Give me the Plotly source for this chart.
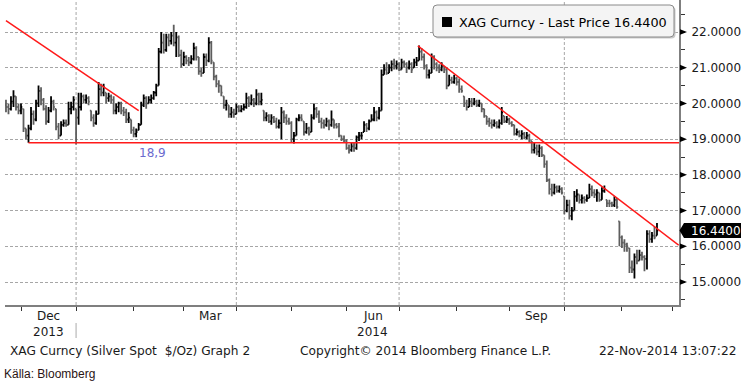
import pandas as pd
import plotly.graph_objects as go

# ---------------- data ----------------
dates = pd.bdate_range("2013-11-22", "2014-11-21")   # 261 trading days (weekends removed)
first_open = 19.95
close = [19.9,
 19.85, 20.05, 20.2, 19.9, 19.8,
 19.9, 19.3, 19.1, 19.3, 19.7,
 19.55, 20.0, 20.35, 20.1, 19.85,
 19.5, 19.8, 20.05, 19.9, 19.35,
 19.1, 19.4, 19.45, 19.4, 19.85,
 19.9, 20.1, 19.6, 19.9, 20.2,
 20.1, 20.15, 20.05, 19.6, 19.45,
 19.7, 20.4, 20.3, 20.45, 20.15,
 20.2, 20.1, 19.8, 19.9, 20.0,
 19.8, 19.75, 19.55, 19.6, 19.25,
 19.15, 19.2, 19.4, 19.95, 20.15,
 20.0, 20.1, 20.15, 20.3, 20.5,
 21.45, 21.7, 21.5, 21.85, 21.75,
 21.9, 21.7, 21.85, 21.35, 21.1,
 21.3, 21.2, 21.15, 21.25, 21.55,
 21.3, 20.9, 20.85, 21.3, 21.2,
 21.7, 21.2, 20.75, 20.55, 20.5,
 20.3, 19.95, 20.0, 19.7, 19.75,
 19.7, 19.9, 19.8, 19.85, 19.9,
 20.15, 20.0, 20.1, 20.0, 20.25,
 20.05, 20.1, 19.6, 19.65, 19.5,
 19.6, 19.5, 19.35, 19.45, 19.75,
 19.6, 19.5, 19.45, 19.0, 19.1,
 19.55, 19.6, 19.55, 19.2, 19.3,
 19.15, 19.6, 19.85, 19.7, 19.5,
 19.45, 19.4, 19.5, 19.4, 19.55,
 19.4, 19.35, 19.1, 19.0, 18.95,
 18.75, 18.7, 18.8, 18.75, 19.05,
 19.1, 19.1, 19.4, 19.3, 19.5,
 19.55, 19.75, 19.6, 19.8, 20.8,
 20.95, 20.85, 21.0, 21.1, 21.05,
 21.1, 20.95, 21.15, 21.1, 21.0,
 21.1, 20.95, 21.15, 21.2, 21.45,
 21.3, 21.05, 20.8, 20.85, 21.3,
 21.1, 21.0, 20.95, 21.05, 20.95,
 20.5, 20.65, 20.6, 20.7, 20.6,
 20.4, 20.35, 20.0, 19.9, 20.05,
 20.0, 20.05, 19.95, 20.0, 19.85,
 19.65, 19.5, 19.45, 19.4, 19.45,
 19.35, 19.45, 19.75, 19.5, 19.55,
 19.45, 19.4, 19.15, 19.2, 19.1,
 19.15, 19.05, 19.1, 18.95, 18.7,
 18.75, 18.65, 18.75, 18.55, 18.3,
 17.85, 17.6, 17.5, 17.65, 17.55,
 17.6, 17.5, 17.0, 17.15, 16.85,
 17.0, 17.4, 17.45, 17.3, 17.35,
 17.3, 17.35, 17.6, 17.5, 17.45,
 17.5, 17.3, 17.55, 17.6, 17.2,
 17.2, 17.15, 17.3, 17.1, 16.25,
 16.1, 16.05, 16.0, 15.4, 15.35,
 15.7, 15.6, 15.75, 15.7, 15.65,
 16.35, 16.2, 16.3, 16.25, 16.44]
high = [20.1,
 20.0, 20.2, 20.37, 20.2, 20.0,
 20.0, 19.85, 19.3, 19.4, 19.9,
 19.8, 20.1, 20.5, 20.45, 20.15,
 19.95, 19.9, 20.2, 20.1, 19.85,
 19.45, 19.5, 19.55, 19.55, 20.05,
 20.05, 20.2, 19.85, 20.3, 20.3,
 20.25, 20.25, 20.2, 19.8, 19.7,
 19.8, 20.6, 20.55, 20.55, 20.3,
 20.3, 20.25, 20.2, 20.0, 20.05,
 20.05, 19.9, 19.85, 19.75, 19.55,
 19.35, 19.3, 19.45, 20.05, 20.25,
 20.2, 20.2, 20.25, 20.35, 20.55,
 21.55, 22.0, 21.95, 21.95, 21.95,
 22.0, 22.2, 22.0, 21.9, 21.5,
 21.45, 21.35, 21.3, 21.35, 21.7,
 21.6, 21.3, 21.0, 21.4, 21.4,
 21.85, 21.75, 21.15, 20.8, 20.65,
 20.5, 20.2, 20.1, 19.95, 19.9,
 19.85, 20.0, 19.95, 19.95, 20.0,
 20.3, 20.2, 20.25, 20.15, 20.4,
 20.3, 20.3, 19.8, 19.75, 19.7,
 19.7, 19.65, 19.6, 19.55, 19.9,
 19.8, 19.7, 19.6, 19.5, 19.2,
 19.6, 19.7, 19.7, 19.5, 19.45,
 19.35, 19.7, 20.0, 19.9, 19.8,
 19.6, 19.55, 19.6, 19.55, 19.8,
 19.55, 19.45, 19.45, 19.1, 19.1,
 19.0, 18.85, 18.9, 18.9, 19.1,
 19.2, 19.2, 19.5, 19.45, 19.55,
 19.7, 19.9, 19.8, 19.9, 20.95,
 21.1, 21.15, 21.1, 21.2, 21.25,
 21.2, 21.15, 21.25, 21.2, 21.15,
 21.2, 21.15, 21.25, 21.3, 21.62,
 21.55, 21.4, 21.1, 20.95, 21.4,
 21.35, 21.15, 21.1, 21.15, 21.05,
 21.0, 20.8, 20.75, 20.8, 20.75,
 20.7, 20.5, 20.2, 20.1, 20.15,
 20.15, 20.15, 20.1, 20.1, 20.0,
 19.85, 19.65, 19.6, 19.55, 19.55,
 19.5, 19.55, 19.9, 19.65, 19.65,
 19.6, 19.5, 19.4, 19.3, 19.25,
 19.25, 19.2, 19.2, 19.15, 18.95,
 18.9, 18.85, 18.85, 18.8, 18.55,
 18.4, 17.9, 17.75, 17.75, 17.7,
 17.7, 17.65, 17.4, 17.3, 17.3,
 17.1, 17.55, 17.6, 17.45, 17.45,
 17.4, 17.45, 17.75, 17.7, 17.6,
 17.6, 17.5, 17.65, 17.7, 17.3,
 17.3, 17.25, 17.4, 17.35, 16.7,
 16.3, 16.2, 16.1, 15.95, 15.6,
 15.8, 15.9, 15.9, 15.85, 15.75,
 16.45, 16.45, 16.4, 16.55, 16.65]
low = [19.75,
 19.7, 19.8, 19.9, 19.8, 19.7,
 19.7, 19.2, 19.0, 18.9, 19.25,
 19.4, 19.5, 19.9, 19.95, 19.8,
 19.4, 19.45, 19.75, 19.8, 19.25,
 19.0, 19.1, 19.35, 19.35, 19.4,
 19.7, 19.8, 18.85, 19.4, 19.8,
 20.0, 20.0, 19.95, 19.5, 19.35,
 19.4, 19.7, 20.2, 20.2, 20.0,
 20.05, 20.0, 19.7, 19.7, 19.75,
 19.7, 19.65, 19.45, 19.45, 19.15,
 19.05, 19.05, 19.25, 19.4, 19.9,
 19.85, 20.0, 20.0, 20.1, 20.2,
 20.5, 21.4, 21.4, 21.45, 21.6,
 21.65, 21.6, 21.3, 21.3, 21.0,
 21.05, 21.1, 21.05, 21.1, 21.2,
 21.2, 20.8, 20.75, 20.85, 21.05,
 21.15, 21.1, 20.65, 20.45, 20.3,
 20.2, 19.85, 19.8, 19.6, 19.6,
 19.6, 19.7, 19.75, 19.75, 19.8,
 19.85, 19.9, 19.95, 19.9, 19.95,
 19.95, 19.95, 19.5, 19.5, 19.45,
 19.4, 19.45, 19.3, 19.3, 19.0,
 19.45, 19.4, 19.4, 18.9, 18.88,
 19.1, 19.5, 19.5, 19.1, 19.15,
 19.1, 19.2, 19.55, 19.6, 19.45,
 19.3, 19.3, 19.35, 19.25, 19.35,
 19.3, 19.3, 19.05, 18.95, 18.9,
 18.7, 18.6, 18.65, 18.65, 18.7,
 18.95, 19.0, 19.2, 19.2, 19.25,
 19.5, 19.5, 19.5, 19.55, 19.8,
 20.8, 20.8, 20.85, 20.9, 20.95,
 20.95, 20.9, 20.95, 21.0, 20.85,
 20.95, 20.85, 21.0, 21.05, 21.2,
 21.2, 20.95, 20.7, 20.7, 20.85,
 20.95, 20.9, 20.85, 20.9, 20.85,
 20.4, 20.5, 20.55, 20.55, 20.5,
 20.3, 20.3, 19.9, 19.8, 19.9,
 19.9, 19.95, 19.9, 19.9, 19.75,
 19.6, 19.4, 19.35, 19.3, 19.35,
 19.3, 19.3, 19.4, 19.45, 19.45,
 19.4, 19.35, 19.1, 19.1, 19.05,
 19.0, 19.0, 19.0, 18.9, 18.6,
 18.6, 18.55, 18.5, 18.5, 18.2,
 17.8, 17.45, 17.4, 17.45, 17.5,
 17.5, 17.45, 16.9, 16.95, 16.75,
 16.73, 17.0, 17.25, 17.2, 17.2,
 17.2, 17.25, 17.35, 17.4, 17.35,
 17.25, 17.25, 17.3, 17.5, 17.1,
 17.1, 17.1, 17.1, 17.05, 16.0,
 15.95, 15.85, 15.85, 15.25, 15.25,
 15.1, 15.5, 15.6, 15.6, 15.3,
 15.35, 16.1, 16.1, 16.2, 16.3]

trend1_x = ["2013-11-22", "2014-02-05"]
trend1_y = [22.32, 19.80]
trend2_x = ["2014-07-10 12:00", "2014-12-03 16:00"]
trend2_y = [21.61, 16.03]
support_x = ["2013-12-05", "2014-12-03 19:00"]
support_y = [18.9, 18.9]
support_label = "18,9"
support_label_x = "2014-02-12 08:00"

y_ticks = [15, 16, 17, 18, 19, 20, 21, 22]
month_ticks = ["2013-12-02", "2014-01-01", "2014-02-03", "2014-03-03", "2014-04-01",
               "2014-05-01", "2014-06-02", "2014-07-01", "2014-08-01", "2014-09-01",
               "2014-10-01", "2014-11-03", "2014-12-01"]
quarter_lines = ["2014-01-01", "2014-04-01", "2014-07-01", "2014-10-01"]
month_labels = [("2013-12-17", "Dec"), ("2014-03-17 12:00", "Mar"),
                ("2014-06-16 12:00", "Jun"), ("2014-09-16", "Sep")]
year_labels = [("2013-12-17", "2013"), ("2014-06-16 12:00", "2014")]
last_price = 16.44
ticker = "XAG Curncy"

# ---------------- geometry helpers ----------------
W, H = 741, 382
def px(x): return x / W
def py(y): return 1 - y / H

opens = []
prev = first_open
for c, h, l in zip(close, high, low):
    opens.append(min(max(prev, l), h))
    prev = c

FONT = "DejaVu Sans"
TXT = "#1a1a1a"

fig = go.Figure()
fig.add_trace(go.Ohlc(
    x=dates, open=opens, high=high, low=low, close=close,
    increasing=dict(line=dict(color="#000000", width=1.8)),
    decreasing=dict(line=dict(color="#5e5e5e", width=1.8)),
    tickwidth=0.5, hoverinfo="skip", showlegend=False))

for xs, ys in [(trend1_x, trend1_y), (trend2_x, trend2_y), (support_x, support_y)]:
    fig.add_trace(go.Scatter(x=xs, y=ys, mode="lines",
                             line=dict(color="#ff1a1a", width=1.5),
                             hoverinfo="skip", showlegend=False))

shapes = []
for d in quarter_lines:
    shapes.append(dict(type="line", xref="x", yref="y domain", x0=d, x1=d, y0=0, y1=1,
                       line=dict(color="#a6a6a6", width=1, dash="3px,2px"), layer="below"))
shapes.append(dict(type="line", xref="x", yref="paper", x0="2014-01-01", x1="2014-01-01",
                   y0=py(323), y1=py(338), line=dict(color="#b8b8b8", width=1.2)))
for v in y_ticks:
    shapes.append(dict(type="path", xref="paper", yref="y",
                       path=f"M {px(680)} {v + 0.08} L {px(687)} {v} L {px(680)} {v - 0.08} Z",
                       fillcolor="#000000", line=dict(width=0)))
yc = 32 + (22 - last_price) * 35.714
tag = [(679.5, yc), (684, yc - 7.5), (741, yc - 7.5), (741, yc + 7.5), (684, yc + 7.5)]
shapes.append(dict(type="path", xref="paper", yref="paper",
                   path="M " + " L ".join(f"{px(a)} {py(b)}" for a, b in tag) + " Z",
                   fillcolor="#000000", line=dict(width=0)))

def rrect(x0, y0, x1, y1, r):
    return (f"M {px(x0 + r)} {py(y0)} L {px(x1 - r)} {py(y0)} "
            f"Q {px(x1)} {py(y0)} {px(x1)} {py(y0 + r)} L {px(x1)} {py(y1 - r)} "
            f"Q {px(x1)} {py(y1)} {px(x1 - r)} {py(y1)} L {px(x0 + r)} {py(y1)} "
            f"Q {px(x0)} {py(y1)} {px(x0)} {py(y1 - r)} L {px(x0)} {py(y0 + r)} "
            f"Q {px(x0)} {py(y0)} {px(x0 + r)} {py(y0)} Z")
shapes.append(dict(type="path", xref="paper", yref="paper", path=rrect(434.5, 6.5, 675.5, 38.5, 4),
                   fillcolor="#c9c9c9", line=dict(width=0)))
shapes.append(dict(type="path", xref="paper", yref="paper", path=rrect(433, 5, 674, 37, 4),
                   fillcolor="#f4f4f4", line=dict(color="#8a8a8a", width=1)))
shapes.append(dict(type="rect", xref="paper", yref="paper",
                   x0=px(442), x1=px(452), y0=py(17), y1=py(27),
                   fillcolor="#000000", line=dict(width=0)))

ann = []
ann.append(dict(xref="paper", yref="paper", x=px(457), y=py(22), xanchor="left", yanchor="middle",
                text=f"{ticker} - Last Price {last_price:.4f}", showarrow=False,
                font=dict(family=FONT, size=12.8, color="#000000")))
ann.append(dict(xref="paper", yref="y", x=px(689), y=last_price, xanchor="left", yanchor="middle",
                text=f"{last_price:.4f}", showarrow=False,
                font=dict(family=FONT, size=12, color="#ffffff")))
ann.append(dict(xref="x", yref="y", x=support_label_x, y=18.61, xanchor="center", yanchor="middle",
                text=support_label, showarrow=False,
                font=dict(family=FONT, size=12, color="#6b6bcf")))
for d, t in month_labels:
    ann.append(dict(xref="x", yref="paper", x=d, y=py(316), xanchor="center", yanchor="middle",
                    text=t, showarrow=False, font=dict(family=FONT, size=12, color=TXT)))
for d, t in year_labels:
    ann.append(dict(xref="x", yref="paper", x=d, y=py(332), xanchor="center", yanchor="middle",
                    text=t, showarrow=False, font=dict(family=FONT, size=12, color=TXT)))
ann.append(dict(xref="paper", yref="paper", x=px(8), y=py(351), xanchor="left", yanchor="middle",
                text="XAG Curncy (Silver Spot\u00a0\u00a0$/Oz) Graph 2", showarrow=False,
                font=dict(family=FONT, size=12.2, color=TXT)))
ann.append(dict(xref="paper", yref="paper", x=px(553), y=py(351), xanchor="right", yanchor="middle",
                text="Copyright\u00a9 2014 Bloomberg Finance L.P.", showarrow=False,
                font=dict(family=FONT, size=12.2, color=TXT)))
ann.append(dict(xref="paper", yref="paper", x=px(738), y=py(351), xanchor="right", yanchor="middle",
                text="22-Nov-2014 13:07:22", showarrow=False,
                font=dict(family=FONT, size=12.2, color=TXT)))
ann.append(dict(xref="paper", yref="paper", x=px(2), y=py(374), xanchor="left", yanchor="middle",
                text="Källa: Bloomberg", showarrow=False,
                font=dict(family="Liberation Sans Narrow, Liberation Sans", size=12, color="#2a1414")))

fig.update_layout(
    width=W, height=H, margin=dict(l=0, r=0, t=0, b=0),
    paper_bgcolor="#ffffff", plot_bgcolor="#ffffff",
    showlegend=False, shapes=shapes, annotations=ann, hovermode=False,
    xaxis=dict(type="date", domain=[px(5), px(679)],
               range=["2013-11-21 14:40", "2014-12-03 19:00"],
               rangebreaks=[dict(bounds=["sat", "mon"])],
               rangeslider=dict(visible=False),
               tickmode="array", tickvals=month_ticks, ticktext=[""] * len(month_ticks),
               ticks="outside", ticklen=4, tickwidth=1, tickcolor="#333333",
               showgrid=False, zeroline=False, showline=True,
               linecolor="#7f7f7f", linewidth=2, automargin=False, fixedrange=True),
    yaxis=dict(side="right", domain=[1 - 305 / H, 1], range=[14.356, 22.896],
               tickmode="array", tickvals=y_ticks, ticktext=[f"{v:.4f}" for v in y_ticks],
               tickfont=dict(family=FONT, size=12, color=TXT),
               ticks="outside", ticklen=8, tickcolor="rgba(0,0,0,0)",
               showgrid=True, gridcolor="#a6a6a6", gridwidth=1, griddash="3px,2px",
               minor=dict(tickmode="linear", tick0=0, dtick=0.5, ticks="outside", ticklen=4,
                          tickcolor="#333333", showgrid=False),
               zeroline=False, showline=True, linecolor="#7f7f7f", linewidth=2,
               automargin=False, fixedrange=True),
)

fig.write_html("out.html", config={"displayModeBar": False},
               post_script="document.body.style.margin='0px';document.body.style.overflow='hidden';")
